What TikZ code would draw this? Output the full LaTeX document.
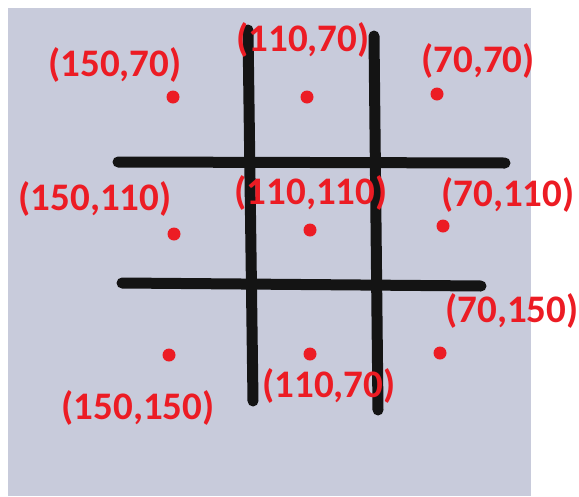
\documentclass[tikz,border=0pt]{standalone}
\usepackage{fontspec}
\setmainfont{Carlito}
\usetikzlibrary{positioning}
\definecolor{paper}{RGB}{200,203,219}
\definecolor{markred}{RGB}{236,28,36}
\tikzset{
  gridline/.style={line width=11pt, line cap=round, black!92},
  cellmark/.style={circle, fill=markred, inner sep=0pt, minimum size=13pt},
  celllabel/.style={text=markred, font=\fontsize{39}{39}\selectfont\bfseries, inner sep=0pt}
}

\begin{document}
\begin{tikzpicture}[x=1pt, y=-1pt]
  \useasboundingbox (0,0) rectangle (579,496);
  \fill[white] (0,0) rectangle (579,496);
  \fill[paper] (8,8) rectangle (531,496);

  % grid ends
  \coordinate (v1t) at (248,30);
  \coordinate (v1b) at (253,401);
  \coordinate (v2t) at (374,36);
  \coordinate (v2b) at (378,410);
  \coordinate (h1l) at (118,162);
  \coordinate (h1r) at (505,163);
  \coordinate (h2l) at (122,283);
  \coordinate (h2r) at (481,286);
  \draw[gridline] (v1t) -- (v1b);
  \draw[gridline] (v2t) -- (v2b);
  \draw[gridline] (h1l) -- (h1r);
  \draw[gridline] (h2l) -- (h2r);

  % cell centres
  \node[cellmark] (m11) at (173,97) {};
  \node[cellmark] (m12) at (307,97) {};
  \node[cellmark] (m13) at (437,94) {};
  \node[cellmark] (m21) at (174,234) {};
  \node[cellmark] (m22) at (310,230) {};
  \node[cellmark] (m23) at (443,226) {};
  \node[cellmark] (m31) at (169,355) {};
  \node[cellmark] (m32) at (310,354) {};
  \node[cellmark] (m33) at (440,353) {};

  % labels
  \node[celllabel] (t11) at (115,65) {(150,70)};
  \node[celllabel] (t12) at (303,40) {(110,70)};
  \node[celllabel] (t13) at (478,61) {(70,70)};
  \node[celllabel] (t21) at (95,199) {(150,110)};
  \node[celllabel] (t22) at (311,193) {(110,110)};
  \node[celllabel] (t23) at (508,195) {(70,110)};
  \node[celllabel] (t31) at (138,408) {(150,150)};
  \node[celllabel] (t32) at (329,386) {(110,70)};
  \node[celllabel] (t33) at (512,311) {(70,150)};
\end{tikzpicture}
\end{document}
